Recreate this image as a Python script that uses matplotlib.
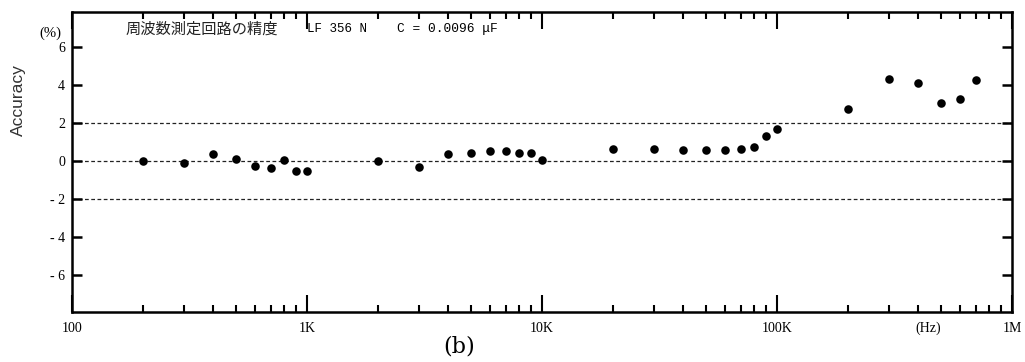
import matplotlib
matplotlib.use('Agg')
import matplotlib.pyplot as plt
from matplotlib.ticker import FixedLocator, NullFormatter
from matplotlib.transforms import blended_transform_factory

plt.rcParams['font.family'] = ['Liberation Serif', 'DejaVu Serif']

# data
freq = [200, 300, 400, 500, 600, 700, 800, 900, 1000,
        2000, 3000, 4000, 5000, 6000, 7000, 8000, 9000, 10000,
        20000, 30000, 40000, 50000, 60000, 70000, 80000, 90000, 100000,
        200000, 300000, 400000, 500000, 600000, 700000]
accuracy = [0.0, -0.1, 0.35, 0.1, -0.25, -0.38, 0.07, -0.53, -0.53,
            0.0, -0.3, 0.35, 0.42, 0.54, 0.54, 0.42, 0.42, 0.05,
            0.65, 0.61, 0.58, 0.56, 0.6, 0.65, 0.75, 1.33, 1.68,
            2.75, 4.3, 4.1, 3.05, 3.25, 4.25]

x_major = [100, 1000, 10000, 100000, 1000000]
x_labels = ['100', '1K', '10K', '100K', '1M']
x_minor = [m * d for d in [100, 1000, 10000, 100000] for m in range(2, 10)]
y_ticks = [-6, -4, -2, 0, 2, 4, 6]
y_labels = ['- 6', '- 4', '- 2', '0', '2', '4', '6']
ref_lines = [2, 0, -2]

fig = plt.figure(figsize=(10.25, 3.62), dpi=100)
ax = fig.add_axes([0.0702, 0.1381, 0.9171, 0.8288])

# reference lines
for v in ref_lines:
    ax.axhline(v, color='#222222', lw=0.9, ls=(0, (3, 2)), zorder=1)

ax.scatter(freq, accuracy, s=38, color='black', zorder=3, linewidths=0)

ax.set_xscale('log')
ax.set_xlim(100, 1e6)
ax.set_ylim(-7.95, 7.85)

ax.xaxis.set_major_locator(FixedLocator(x_major))
ax.set_xticklabels(x_labels)
ax.xaxis.set_minor_locator(FixedLocator(x_minor))
ax.xaxis.set_minor_formatter(NullFormatter())
ax.set_yticks(y_ticks)
ax.set_yticklabels(y_labels)

for s in ax.spines.values():
    s.set_linewidth(1.8)

ax.tick_params(axis='x', which='major', direction='in', top=True, bottom=True,
               length=12, width=1.5, pad=7, labelsize=10)
ax.tick_params(axis='x', which='minor', direction='in', top=True, bottom=True,
               length=5, width=1.5)
ax.tick_params(axis='y', which='major', direction='in', left=True, right=True,
               length=7, width=1.8, pad=5, labelsize=10)

# header text inside the plot
ax.text(0.0574, 0.943, '周波数測定回路の精度', transform=ax.transAxes,
        va='center', ha='left', fontsize=11,
        family=['Noto Sans CJK JP', 'DejaVu Sans'], color='#222222')
ax.text(0.25, 0.943, 'LF 356 N', transform=ax.transAxes,
        va='center', ha='left', fontsize=9, family='Liberation Mono')
ax.text(0.3457, 0.943, 'C = 0.0096 μF', transform=ax.transAxes,
        va='center', ha='left', fontsize=9.3, family='Liberation Mono')

# units
trans = blended_transform_factory(ax.transData, ax.transAxes)
ax.text(4.4e5, -0.053, '(Hz)', transform=trans, ha='center', va='center',
        fontsize=10)
fig.text(50 / 1025, 1 - 33 / 362, '(%)', ha='center', va='center',
         fontsize=10.5)
fig.text(18 / 1025, 1 - 100 / 362, 'Accuracy', rotation=90, ha='center',
         va='center', fontsize=12.5, family='Liberation Sans', color='#333333')
fig.text(459 / 1025, 1 - 346 / 362, '(b)', ha='center', va='center',
         fontsize=16, family='DejaVu Serif')

fig.savefig('out.png', dpi=100)
